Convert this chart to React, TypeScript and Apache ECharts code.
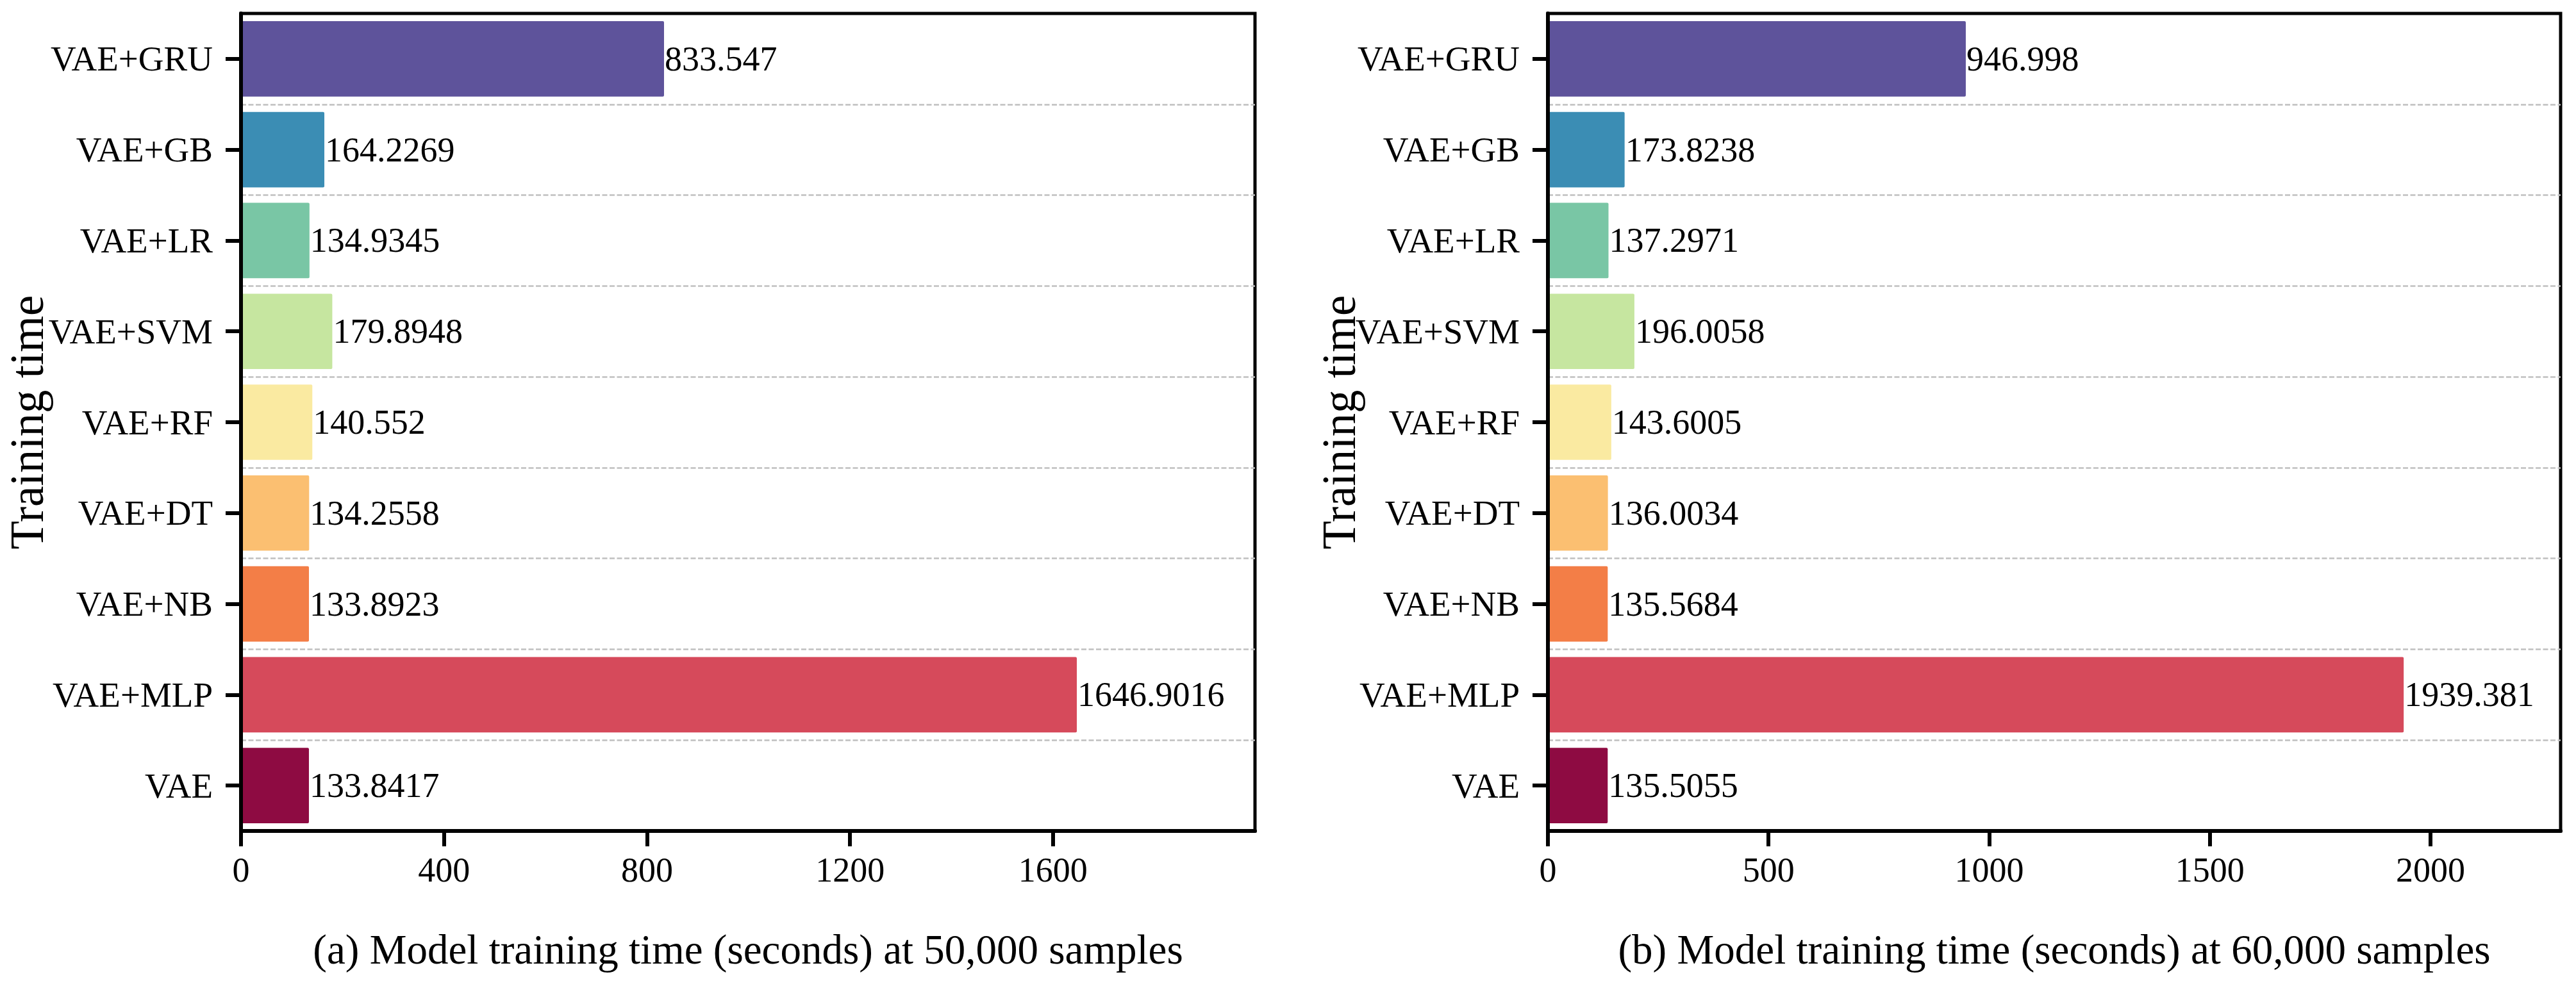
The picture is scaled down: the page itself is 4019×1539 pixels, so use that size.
import React, { useEffect, useRef } from "react";
import * as echarts from "echarts";

const categories = ["VAE", "VAE+MLP", "VAE+NB", "VAE+DT", "VAE+RF", "VAE+SVM", "VAE+LR", "VAE+GB", "VAE+GRU"];
const times50k = [133.8417, 1646.9016, 133.8923, 134.2558, 140.552, 179.8948, 134.9345, 164.2269, 833.547];
const times60k = [135.5055, 1939.381, 135.5684, 136.0034, 143.6005, 196.0058, 137.2971, 173.8238, 946.998];
const barColors = ["#8e0b42", "#d64a5b", "#f37e47", "#fbbf71", "#faeaa1", "#c6e6a0", "#79c6a5", "#3b8db4", "#5e539b"];
const ticks50k = [0, 400, 800, 1200, 1600];
const ticks60k = [0, 500, 1000, 1500, 2000];
const axisMax50k = 1998;
const axisMax60k = 2295;
const captions = [
  "(a) Model training time (seconds) at 50,000 samples",
  "(b) Model training time (seconds) at 60,000 samples",
];
const yAxisTitle = "Training time";

const FONT = "'Liberation Serif', 'Times New Roman', serif";

export default function App() {
  const ref = useRef<HTMLDivElement>(null);

  useEffect(() => {
    if (!ref.current) return;
    const chart = echarts.init(ref.current, null, { renderer: "svg" });

    const grids = [
      { left: 376, top: 21, width: 1582, height: 1276 },
      { left: 2415, top: 21, width: 1580, height: 1276 },
    ];
    const panels = [
      { values: times50k, ticks: ticks50k, max: axisMax50k, interval: 400, nameGap: 297 },
      { values: times60k, ticks: ticks60k, max: axisMax60k, interval: 500, nameGap: 289 },
    ];

    const option: any = {
      animation: false,
      backgroundColor: "#ffffff",
      grid: grids.map((g) => ({
        ...g,
        show: true,
        borderColor: "#000000",
        borderWidth: 5,
        backgroundColor: "transparent",
        containLabel: false,
        outerBoundsMode: "none",
      })),
      xAxis: panels.map((p, i) => ({
        type: "value",
        gridIndex: i,
        min: 0,
        max: p.max,
        interval: p.interval,
        z: 5,
        axisLine: { show: true, lineStyle: { color: "#000000", width: 6 } },
        axisTick: {
          show: true,
          length: 24,
          customValues: p.ticks,
          lineStyle: { color: "#000000", width: 6 },
        },
        axisLabel: {
          show: true,
          customValues: p.ticks,
          formatter: (v: number) => String(v),
          margin: 34,
          fontSize: 54,
          fontFamily: FONT,
          color: "#000000",
        },
        splitLine: { show: false },
      })),
      yAxis: panels.map((p, i) => ({
        type: "category",
        gridIndex: i,
        data: categories,
        z: 5,
        name: yAxisTitle,
        nameLocation: "middle",
        nameGap: p.nameGap,
        nameMoveOverlap: false,
        nameTextStyle: { fontSize: 73, fontFamily: FONT, color: "#000000" },
        axisLine: { show: true, lineStyle: { color: "#000000", width: 6 } },
        axisTick: {
          show: true,
          alignWithLabel: true,
          length: 24,
          lineStyle: { color: "#000000", width: 6 },
        },
        axisLabel: {
          show: true,
          interval: 0,
          margin: 44,
          fontSize: 55,
          fontFamily: FONT,
          color: "#000000",
          padding: [0, 0, 12, 0],
        },
        splitLine: {
          show: true,
          showMinLine: false,
          showMaxLine: false,
          lineStyle: { color: "#c0c0c0", width: 2.5, type: [8, 3.5] },
        },
      })),
      series: panels.map((p, i) => ({
        type: "bar",
        xAxisIndex: i,
        yAxisIndex: i,
        barWidth: "83%",
        data: p.values.map((v, j) => ({ value: v, itemStyle: { color: barColors[j] } })),
        itemStyle: { borderRadius: 2 },
        label: {
          show: true,
          position: "right",
          distance: 1,
          fontSize: 54,
          fontFamily: FONT,
          color: "#000000",
        },
      })),
      graphic: captions.map((c, i) => ({
        type: "text",
        x: grids[i].left + grids[i].width / 2,
        y: 1482,
        style: {
          text: c,
          fontSize: 65,
          fontFamily: FONT,
          fill: "#000000",
          align: "center",
          verticalAlign: "middle",
        },
      })),
    };

    chart.setOption(option);
    return () => {
      chart.dispose();
    };
  }, []);

  return (
    <div
      ref={ref}
      style={{ position: "absolute", left: 0, top: 0, width: 4019, height: 1539 }}
    />
  );
}
